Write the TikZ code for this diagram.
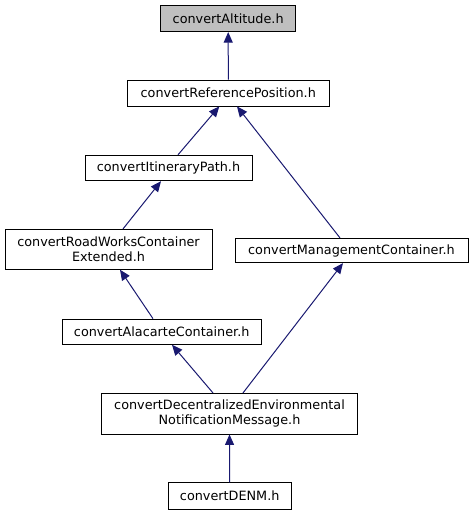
\documentclass[tikz,border=0pt]{standalone}
\usepackage{fontspec}
\setmainfont{DejaVu Sans}
\usetikzlibrary{arrows.meta}
\definecolor{edgeblue}{HTML}{191970}
\definecolor{grayfill}{HTML}{BFBFBF}
\tikzset{
  filebox/.style={draw=black, line width=0.8pt, fill=white, rectangle, inner sep=0pt, align=center,
    font=\fontsize{12.8pt}{15pt}\selectfont},
  incl/.style={draw=edgeblue, line width=1pt, -{Triangle[length=10.5pt,width=9pt]}, color=edgeblue}
}
\begin{document}
\begin{tikzpicture}[x=1pt,y=-1pt]
\useasboundingbox (0,0) rectangle (472,515);
\node[filebox, fill=grayfill, minimum width=135pt, minimum height=26.4pt] (alt) at (228.2,18.5) {convertAltitude.h};
\node[filebox, minimum width=202pt, minimum height=26pt] (ref) at (228.3,93) {convertReferencePosition.h};
\node[filebox, minimum width=167pt, minimum height=25.6pt] (itin) at (168.5,168) {convertItineraryPath.h};
\node[filebox, minimum width=207pt, minimum height=40pt] (road) at (108.5,249.3) {convertRoadWorksContainer\\Extended.h};
\node[filebox, minimum width=233pt, minimum height=24.4pt] (mgmt) at (351.5,250.5) {convertManagementContainer.h};
\node[filebox, minimum width=198.7pt, minimum height=25.3pt] (ala) at (161.7,331.7) {convertAlacarteContainer.h};
\node[filebox, minimum width=255.6pt, minimum height=40.7pt] (dmsg) at (229.5,413.7) {convertDecentralizedEnvironmental\\NotificationMessage.h};
\node[filebox, minimum width=122.7pt, minimum height=26.3pt] (denm) at (229.7,496) {convertDENM.h};

\draw[incl] (ref.north) -- (alt.south);
\draw[incl] ([xshift=9.5pt]itin.north) -- ([xshift=-9pt]ref.south);
\draw[incl] ([xshift=-11.5pt]mgmt.north) -- ([xshift=8.7pt]ref.south);
\draw[incl] ([xshift=14.5pt]road.north) -- ([xshift=-7.5pt]itin.south);
\draw[incl] ([xshift=-8.7pt]ala.north) -- ([xshift=11.5pt]road.south);
\draw[incl] ([xshift=-16.5pt]dmsg.north) -- ([xshift=10.3pt]ala.south);
\draw[incl] ([xshift=13.5pt]dmsg.north) -- ([xshift=-8.5pt]mgmt.south);
\draw[incl] (denm.north) -- (dmsg.south);
\end{tikzpicture}
\end{document}
